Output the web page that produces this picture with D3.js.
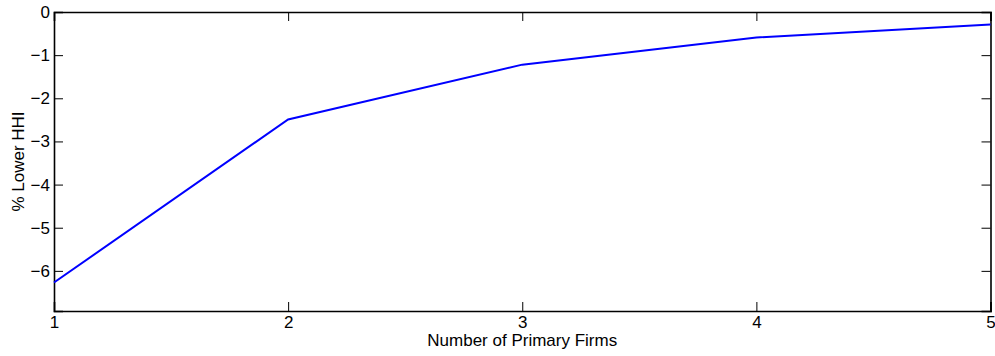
<!DOCTYPE html>
<html>
<head>
<meta charset="utf-8">
<script src="https://cdn.jsdelivr.net/npm/d3@7"></script>
<style>
  body { margin: 0; background: #fff; }
  text { font-family: "Liberation Sans", Arial, sans-serif; fill: #000; }
</style>
</head>
<body>
<div id="chart"></div>
<script>
// data
const firms = [1, 2, 3, 4, 5];
const lowerHHI = [-6.27, -2.49, -1.22, -0.59, -0.29];
const xTicks = [1, 2, 3, 4, 5];
const yTicks = [0, -1, -2, -3, -4, -5, -6];

const width = 995, height = 356;
const margin = { top: 12, right: 4, bottom: 45, left: 54 };
const fontSize = '17px';

const svg = d3.select('#chart').append('svg')
    .attr('width', width)
    .attr('height', height);

const x = d3.scaleLinear()
    .domain([1, 5])
    .range([margin.left, width - margin.right - 0.5]);

const y = d3.scaleLinear()
    .domain([-6.93, 0])
    .range([height - margin.bottom, margin.top]);

const fmt = d => d < 0 ? '\u2212' + Math.abs(d) : String(d);
const tickLen = 9;

// bottom axis, ticks pointing inward
svg.append('g')
    .attr('font-size', fontSize)
    .attr('transform', `translate(0, ${y(-6.93)})`)
    .call(d3.axisBottom(x).tickValues(xTicks).tickSize(-tickLen).tickPadding(5).tickFormat(fmt))
    .attr('font-size', fontSize);

// top axis
svg.append('g')
    .attr('transform', `translate(0, ${y(0)})`)
    .call(d3.axisTop(x).tickValues(xTicks).tickSize(-tickLen).tickFormat(''));

// left axis
svg.append('g')
    .attr('transform', `translate(${x(1)}, 0)`)
    .call(d3.axisLeft(y).tickValues(yTicks).tickSize(-tickLen).tickPadding(4).tickFormat(fmt))
    .attr('font-size', fontSize);

// right axis
svg.append('g')
    .attr('transform', `translate(${x(5)}, 0)`)
    .call(d3.axisRight(y).tickValues(yTicks).tickSize(-tickLen).tickFormat(''));

svg.selectAll('.domain').attr('stroke', '#000').attr('stroke-width', 1.6);
svg.selectAll('.tick line').attr('stroke', '#000').attr('stroke-width', 1);

const line = d3.line()
    .x((d, i) => x(firms[i]))
    .y(d => y(d));

svg.append('path')
    .datum(lowerHHI)
    .attr('fill', 'none')
    .attr('stroke', '#0000ff')
    .attr('stroke-width', 2)
    .attr('d', line);

svg.append('text')
    .attr('x', (x(1) + x(5)) / 2)
    .attr('y', 346)
    .attr('text-anchor', 'middle')
    .attr('font-size', fontSize)
    .text('Number of Primary Firms');

svg.append('text')
    .attr('transform', `translate(24, ${(y(0) + y(-6.93)) / 2}) rotate(-90)`)
    .attr('text-anchor', 'middle')
    .attr('font-size', fontSize)
    .text('% Lower HHI');
</script>
</body>
</html>
